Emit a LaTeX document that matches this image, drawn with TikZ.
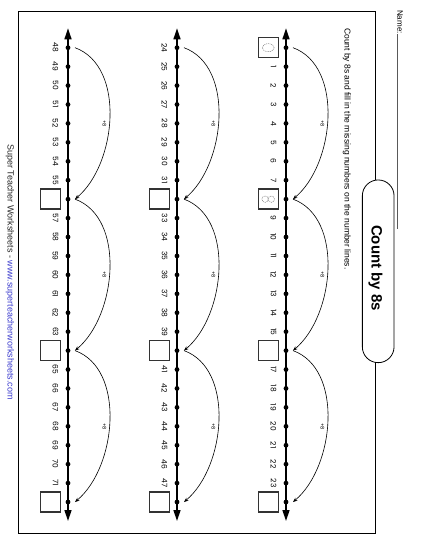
\documentclass[tikz,border=0pt]{standalone}
\usepackage{fontspec}
\setmainfont{Liberation Sans}
\newfontfamily\numfont{Poppins}
\usetikzlibrary{arrows.meta,calc,shapes.geometric}
\definecolor{urlblue}{RGB}{60,60,205}
\begin{document}
\begin{tikzpicture}[x=1pt,y=1pt,
  numline/.style={line width=1.4pt,{Triangle[length=11pt,width=7pt]}-{Triangle[length=11pt,width=7pt]}},
  dotnode/.style={circle,fill=black,inner sep=0pt,minimum size=4.8pt},
  num/.style={font=\numfont\fontsize{7.5}{8}\selectfont,rotate=-90,inner sep=0pt},
  ansbox/.style={draw=black!80,line width=1.3pt,minimum size=20pt,inner sep=0pt},
  hop/.style={line width=0.6pt,-{Stealth[length=4.5pt,width=3.5pt]}},
  hoplabel/.style={font=\numfont\fontsize{5}{6}\selectfont,rotate=-90,inner sep=0pt},
  traced/.style={draw=black!55,dash pattern=on 1pt off 0.8pt,line width=0.45pt,inner sep=0pt},
  rottext/.style={rotate=-90,inner sep=0pt},
]
\useasboundingbox (0,0) rectangle (425,-550);
% frame
\draw[line width=0.9pt] (18.3,-11.7) rectangle (375.5,-533);
% name
\node[rottext,anchor=base west,font=\fontsize{8}{9}\selectfont] (name) at (397.3,-10) {Name:};
\coordinate (nameend) at (397.3,-229);
\draw[line width=0.7pt,black!65] (name.base east) -- (nameend);
% title pill
\node[draw,fill=white,rounded corners=15.8pt,minimum width=31.7pt,minimum height=182.7pt,inner sep=0pt,line width=0.8pt] (pill) at (378.2,-271.3) {};
\node[rottext,anchor=base,font=\bfseries\fontsize{15}{18}\selectfont] (title) at (371.6,-268) {Count by 8s};
% instructions
\node[rottext,anchor=base west,font=\fontsize{8.5}{10}\selectfont] (instr) at (344.5,-28) {Count by 8s and fill in the missing numbers on the number lines.};
% footer
\node[rottext,anchor=base,font=\fontsize{9}{11}\selectfont,text=black!85] (footer) at (7.6,-272) {Super Teacher Worksheets - {\color{urlblue}www.superteacherworksheets.com}};
% number lines
\foreach \L/\lx/\st in {1/286/0, 2/177/24, 3/68/48} {
  \coordinate (top\L) at (\lx,-28.3);
  \coordinate (bot\L) at (\lx,-521);
  \draw[numline] (top\L) -- (bot\L);
  \foreach \k in {0,...,24} {
    \node[dotnode] (d\L-\k) at (\lx,{-47.7-18.93*\k}) {};
    \pgfmathtruncatemacro\n{\st+\k}
    \pgfmathtruncatemacro\isbox{(mod(\k,8)==0) && ((\L==1) || (\k>0))}
    \ifnum\isbox=1
      \node[ansbox] (b\L-\k) at ($(d\L-\k)+(-17.8,0)$) {};
    \else
      \node[num] (n\L-\k) at ($(d\L-\k)+(-12.5,0)$) {\n};
    \fi
  }
  \foreach \a/\b in {0/8,8/16,16/24} {
    \draw[hop] ($(d\L-\a)+(7,0)$) to[out=-20,in=40,looseness=0.92] ($(d\L-\b)+(7,0)$);
    \node[hoplabel] (p\L-\a) at ($(d\L-\a)!0.5!(d\L-\b)+(36.5,0)$) {+8};
  }
}
% traced digits
\node[traced,ellipse,minimum width=12pt,minimum height=8pt] (zero) at (b1-0) {};
\node[traced,circle,minimum size=6.4pt] (eightA) at ($(b1-8)+(-3.1,0)$) {};
\node[traced,circle,minimum size=6.4pt] (eightB) at ($(b1-8)+(3.1,0)$) {};
\end{tikzpicture}
\end{document}
